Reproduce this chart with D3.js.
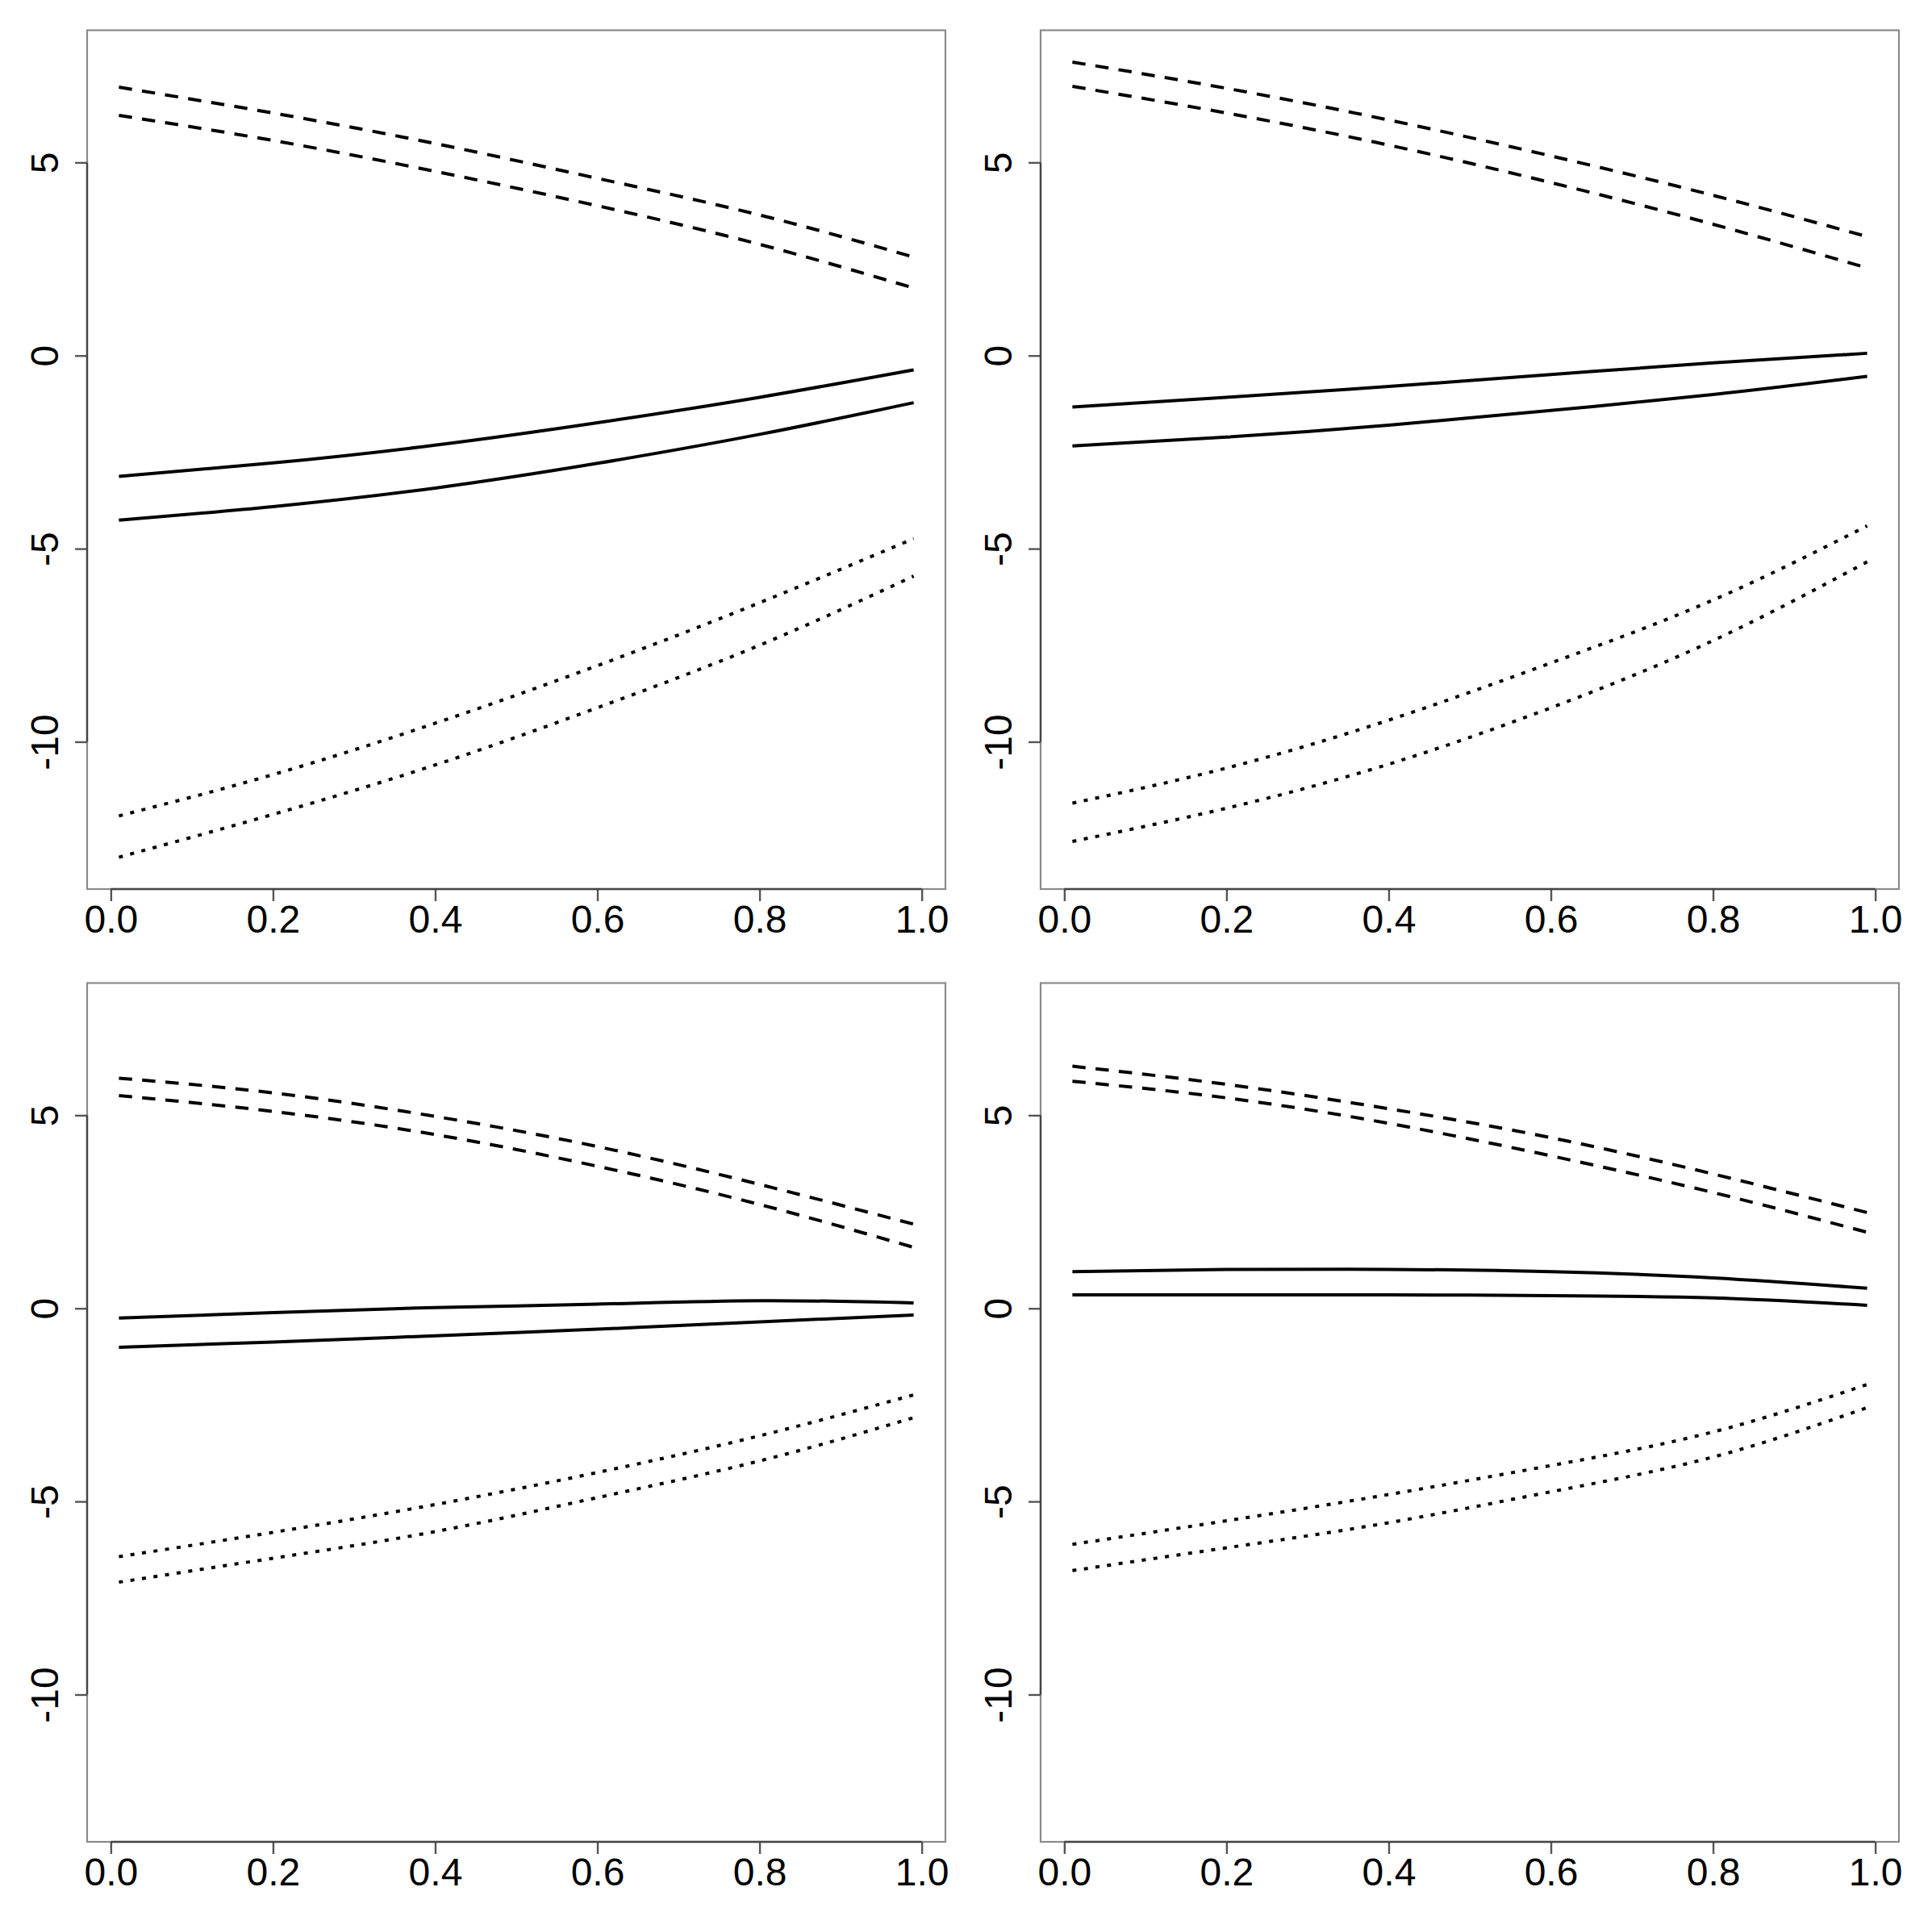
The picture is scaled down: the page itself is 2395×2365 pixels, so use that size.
<!DOCTYPE html>
<meta charset="utf-8">
<title>Four panels</title>
<script src="https://d3js.org/d3.v7.min.js"></script>
<style>
  body { margin: 0; background: #fff; }
  text { font-family: "Liberation Sans", Arial, sans-serif; }
</style>
<body>
<div id="viz"></div>
<script>
const xs = [0.01, 0.2, 0.4, 0.6, 0.8, 0.99];

// panel 1 (top left)
const p1Dashed = [[6.95, 6.28, 5.49, 4.59, 3.64, 2.55], [6.22, 5.57, 4.77, 3.88, 2.88, 1.75]];
const p1Solid  = [[-3.13, -2.78, -2.32, -1.74, -1.08, -0.37], [-4.26, -3.91, -3.43, -2.79, -2.04, -1.22]];
const p1Dotted = [[-11.92, -10.85, -9.52, -8.03, -6.4, -4.74], [-12.99, -11.88, -10.6, -9.12, -7.5, -5.71]];
// panel 2 (top right)
const p2Dashed = [[7.6, 6.92, 6.1, 5.17, 4.15, 3.08], [6.97, 6.28, 5.45, 4.48, 3.4, 2.27]];
const p2Solid  = [[-1.33, -1.08, -0.8, -0.49, -0.19, 0.06], [-2.34, -2.11, -1.8, -1.42, -1.01, -0.54]];
const p2Dotted = [[-11.59, -10.68, -9.44, -7.96, -6.33, -4.41], [-12.58, -11.72, -10.58, -9.12, -7.38, -5.34]];
// panel 3 (bottom left)
const p3Dashed = [[5.96, 5.58, 4.97, 4.19, 3.21, 2.18], [5.51, 5.1, 4.5, 3.68, 2.69, 1.58]];
const p3Solid  = [[-0.25, -0.11, 0.02, 0.11, 0.2, 0.14], [-1.01, -0.87, -0.71, -0.54, -0.35, -0.17]];
const p3Dotted = [[-6.43, -5.8, -5.08, -4.25, -3.3, -2.24], [-7.09, -6.47, -5.78, -4.9, -3.95, -2.83]];
// panel 4 (bottom right)
const p4Dashed = [[6.27, 5.8, 5.17, 4.42, 3.48, 2.48], [5.88, 5.45, 4.79, 3.95, 3.0, 1.97]];
const p4Solid  = [[0.95, 1.01, 1.01, 0.95, 0.79, 0.52], [0.35, 0.35, 0.35, 0.33, 0.27, 0.08]];
const p4Dotted = [[-6.11, -5.5, -4.82, -4.07, -3.2, -1.97], [-6.79, -6.2, -5.55, -4.75, -3.85, -2.57]];

const xTicks = [0, 0.2, 0.4, 0.6, 0.8, 1.0];
const yTicks = [-10, -5, 0, 5];

const panels = [
  {dashed: p1Dashed, solid: p1Solid, dotted: p1Dotted},
  {dashed: p2Dashed, solid: p2Solid, dotted: p2Dotted},
  {dashed: p3Dashed, solid: p3Solid, dotted: p3Dotted},
  {dashed: p4Dashed, solid: p4Solid, dotted: p4Dotted}
];

const width = 2395, height = 2365;
const cell = 1182;
const box = {left: 108, right: 1172, top: 37.5, bottom: 1102};

// same limits in every panel, widened 4% like R does
const pad = (lo, hi) => { const d = (hi - lo) * 0.04; return [lo - d, hi + d]; };
const allY = panels.flatMap(p => [...p.dashed, ...p.solid, ...p.dotted].flat());
const x = d3.scaleLinear().domain(pad(d3.min(xs), d3.max(xs))).range([box.left, box.right]);
const y = d3.scaleLinear().domain(pad(d3.min(allY), d3.max(allY))).range([box.bottom, box.top]);

const line = d3.line()
  .x((d, i) => x(xs[i]))
  .y(d => y(d))
  .curve(d3.curveNatural);

const styles = {
  solid: null,
  dashed: "16.5,12.5",
  dotted: "5,9.5"
};

const svg = d3.select("#viz")
  .append("svg")
  .attr("width", width)
  .attr("height", height)
  .attr("viewBox", [0, 0, width, height]);

panels.forEach((p, k) => {
  const g = svg.append("g")
    .attr("transform", `translate(${(k % 2) * cell},${Math.floor(k / 2) * 1181})`);

  g.append("rect")
    .attr("x", box.left)
    .attr("y", box.top)
    .attr("width", box.right - box.left)
    .attr("height", box.bottom - box.top)
    .attr("fill", "none")
    .attr("stroke", "#8a8a8a")
    .attr("stroke-width", 2.2);

  for (const kind of ["dashed", "solid", "dotted"]) {
    g.selectAll(null)
      .data(p[kind])
      .join("path")
      .attr("d", line)
      .attr("fill", "none")
      .attr("stroke", "#000")
      .attr("stroke-width", 4)
      .attr("stroke-dasharray", styles[kind]);
  }

  // x axis
  const gx = g.append("g")
    .attr("transform", `translate(0,${box.bottom})`)
    .call(d3.axisBottom(x).tickValues(xTicks).tickFormat(d3.format(".1f")).tickSize(15).tickSizeOuter(0));
  gx.select(".domain").remove();
  gx.append("line")
    .attr("x1", x(xTicks[0])).attr("x2", x(xTicks[xTicks.length - 1]))
    .attr("stroke", "#444").attr("stroke-width", 2.4);
  gx.selectAll(".tick line").attr("stroke", "#555").attr("stroke-width", 2.4);
  gx.selectAll(".tick text")
    .attr("y", 54).attr("dy", null)
    .attr("fill", "#000")
    .style("font-size", "48px");

  // y axis, plain hyphen for the minus like R prints it
  const gy = g.append("g")
    .attr("transform", `translate(${box.left},0)`)
    .call(d3.axisLeft(y).tickValues(yTicks).tickFormat(d => String(d)).tickSize(15).tickSizeOuter(0));
  gy.select(".domain").remove();
  gy.append("line")
    .attr("y1", y(yTicks[0])).attr("y2", y(yTicks[yTicks.length - 1]))
    .attr("stroke", "#444").attr("stroke-width", 2.4);
  gy.selectAll(".tick line").attr("stroke", "#555").attr("stroke-width", 2.4);
  gy.selectAll(".tick text")
    .attr("x", null).attr("dy", null)
    .attr("transform", "translate(-36,0) rotate(-90)")
    .attr("text-anchor", "middle")
    .attr("fill", "#000")
    .style("font-size", "48px");
});
</script>
</body>
